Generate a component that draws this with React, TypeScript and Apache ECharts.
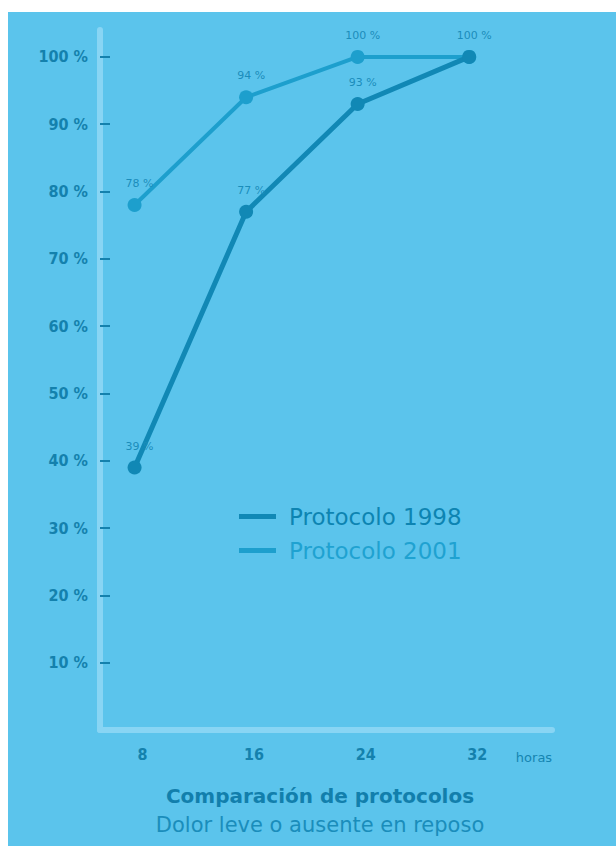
import React, { useEffect, useRef } from "react";
import * as echarts from "echarts";

const hours = [8, 16, 24, 32];
const protocolo1998 = [39, 77, 93, 100];
const protocolo2001 = [78, 94, 100, 100];
const yTickValues = [10, 20, 30, 40, 50, 60, 70, 80, 90, 100];
const seriesNames = ["Protocolo 1998", "Protocolo 2001"];
const titleText = "Comparación de protocolos";
const subtitleText = "Dolor leve o ausente en reposo";
const xUnit = "horas";

const BG = "#5bc4ec";
const AXIS_LIGHT = "#88d5f4";
const DARK_TEXT = "#1481ad";
const C1998 = "#1188b5";
const C2001 = "#1d9fcd";

export default function App() {
  const ref = useRef<HTMLDivElement>(null);
  useEffect(() => {
    if (!ref.current) return;
    const chart = echarts.init(ref.current, null, { renderer: "svg" });
    const labelStyle = {
      show: true,
      position: "top" as const,
      distance: 9,
      offset: [5, 0],
      formatter: (p: any) => `${p.value[1]} %`,
      fontFamily: "DejaVu Sans",
      fontSize: 11,
      color: "#1b8dbb",
    };
    chart.setOption({
      animation: false,
      backgroundColor: BG,
      grid: { left: 92, top: 18, width: 452, height: 700 },
      xAxis: {
        type: "value",
        min: 5.52,
        max: 37.94,
        splitLine: { show: false },
        axisLine: { show: true, lineStyle: { color: AXIS_LIGHT, width: 6 } },
        axisTick: { show: false },
        axisLabel: {
          customValues: hours,
          margin: 16,
          padding: [0, 0, 0, 16],
          fontFamily: "Liberation Sans Narrow, DejaVu Sans Condensed, sans-serif",
          fontWeight: "bold",
          fontSize: 16,
          color: DARK_TEXT,
        },
      },
      yAxis: {
        type: "value",
        min: 0,
        max: 104,
        splitLine: { show: false },
        axisLine: { show: true, lineStyle: { color: AXIS_LIGHT, width: 6 } },
        axisTick: {
          show: true,
          inside: true,
          length: 10,
          customValues: yTickValues,
          lineStyle: { color: DARK_TEXT, width: 2 },
        },
        axisLabel: {
          customValues: yTickValues,
          margin: 12,
          formatter: "{value} %",
          fontFamily: "Liberation Sans Narrow, DejaVu Sans Condensed, sans-serif",
          fontWeight: "bold",
          fontSize: 16,
          color: DARK_TEXT,
        },
      },
      legend: {
        orient: "vertical",
        left: 226,
        top: 488,
        itemGap: 11,
        itemWidth: 37,
        itemHeight: 5,
        icon: "rect",
        textStyle: { fontFamily: "DejaVu Sans", fontSize: 23, padding: [0, 0, 0, 8] },
        data: [
          { name: seriesNames[0], textStyle: { color: "#0d84b2" } },
          { name: seriesNames[1], textStyle: { color: "#1fa2d1" } },
        ],
      },
      title: {
        text: titleText,
        subtext: subtitleText,
        left: 307,
        textAlign: "center",
        top: 769,
        itemGap: 8,
        textStyle: {
          fontFamily: "DejaVu Sans",
          fontWeight: "bold",
          fontSize: 20,
          color: "#127fac",
        },
        subtextStyle: {
          fontFamily: "DejaVu Sans",
          fontSize: 21,
          color: "#1a8dbb",
        },
      },
      graphic: [
        {
          type: "text",
          x: 526,
          y: 745,
          style: {
            text: xUnit,
            fontFamily: "DejaVu Sans",
            fontSize: 13,
            fill: "#1585b1",
            textAlign: "center",
            textVerticalAlign: "middle",
          },
        },
      ],
      series: [
        {
          name: seriesNames[1],
          type: "line",
          data: hours.map((h, i) => [h, protocolo2001[i]]),
          symbol: "circle",
          symbolSize: 14,
          color: C2001,
          lineStyle: { width: 4, color: C2001 },
          itemStyle: { color: C2001 },
          label: labelStyle,
          z: 3,
        },
        {
          name: seriesNames[0],
          type: "line",
          data: hours.map((h, i) => ({
            value: [h, protocolo1998[i]],
            label: { show: i !== hours.length - 1 },
          })),
          symbol: "circle",
          symbolSize: 14,
          color: C1998,
          lineStyle: { width: 5, color: C1998 },
          itemStyle: { color: C1998 },
          label: labelStyle,
          z: 4,
        },
      ],
    });
    return () => chart.dispose();
  }, []);
  return (
    <div
      ref={ref}
      style={{ position: "absolute", left: 8, top: 12, width: 608, height: 834 }}
    />
  );
}
